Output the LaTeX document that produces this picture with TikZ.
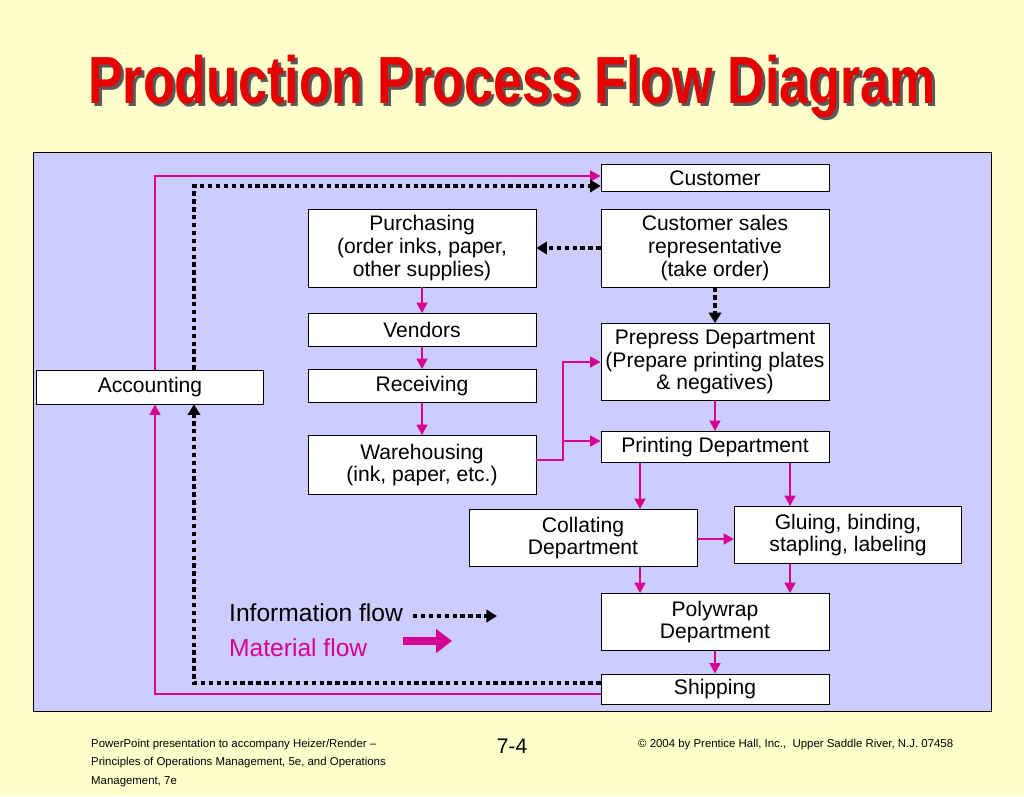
\documentclass[tikz,border=0pt]{standalone}
\usepackage{fontspec}
\setmainfont{Liberation Sans}
\usetikzlibrary{calc, arrows.meta}
\usepackage{xcolor}
\definecolor{bgyellow}{RGB}{255,255,204}
\definecolor{panelblue}{RGB}{204,204,255}
\definecolor{matpink}{RGB}{214,0,147}
\definecolor{titlered}{RGB}{230,0,0}

\begin{document}
\begin{tikzpicture}[x=0.02cm, y=-0.02cm]
        % ================= 样式定义 =================
        \tikzset{
            % 方框样式
            box/.style 2 args={draw=black, fill=white, align=center, inner sep=1pt,
                minimum width={#1*0.02cm}, minimum height={#2*0.02cm}, font=\fontsize{12}{13}\selectfont},
            % 物料流
            mat/.style={matpink, line width=1.6pt, -{Triangle[length=6pt, width=6pt]}},
            % 信息流
            info/.style={black, line width=2.2pt, dash pattern=on 2.5pt off 2pt, -{Triangle[length=6pt, width=7pt]}}
        }

        % ================= 背景 =================
        \fill[bgyellow] (0,0) rectangle (1024,796);
        \useasboundingbox (0,0) rectangle (1024,796);
        \draw[fill=panelblue] (33,152) rectangle (991,711);

        % 标题
        \node[gray!70!black, font=\bfseries\fontsize{38}{40}\selectfont, xscale=0.78] (shadow) at (515,89) {Production Process Flow Diagram};
        \node[titlered, font=\bfseries\fontsize{38}{40}\selectfont, xscale=0.78] (title) at (512,86) {Production Process Flow Diagram};

        % ================= 1. 方框 =================
        \node[box={228}{27}] (cust) at (715,178) {Customer};
        \node[box={228}{78}] (purch) at (422,248) {Purchasing\\(order inks, paper,\\other supplies)};
        \node[box={228}{78}] (csr) at (715,248) {Customer sales\\representative\\(take order)};
        \node[box={228}{33}] (vend) at (422,330) {Vendors};
        \node[box={228}{77}] (prep) at (715,362) {Prepress Department\\(Prepare printing plates\\\& negatives)};
        \node[box={227}{34}] (acct) at (150,387) {Accounting};
        \node[box={228}{33}] (recv) at (422,386) {Receiving};
        \node[box={228}{59}] (ware) at (422,465) {Warehousing\\(ink, paper, etc.)};
        \node[box={228}{31}] (print) at (715,447) {Printing Department};
        \node[box={228}{57}] (coll) at (583,538) {Collating\\Department};
        \node[box={227}{57}] (glue) at (848,535) {Gluing, binding,\\stapling, labeling};
        \node[box={228}{57}] (poly) at (715,622) {Polywrap\\Department};
        \node[box={228}{30}] (ship) at (715,689) {Shipping};

        % ================= 2. 物料流 =================
        \draw[mat] (purch) -- (vend);
        \draw[mat] (vend) -- (recv);
        \draw[mat] (recv) -- (ware);
        \coordinate (wbend) at (563,460);
        \draw[mat] (ware.east |- wbend) -- (wbend) |- (prep.west);
        \draw[mat] (563,441) -- (print.west |- 0,441);
        \draw[mat] (prep) -- (print);
        \draw[mat] (print.south -| 640,0) -- (coll.north -| 640,0);
        \draw[mat] (print.south -| 790,0) -- (glue.north -| 790,0);
        \draw[mat] (coll.east |- 0,539) -- (glue.west |- 0,539);
        \draw[mat] (coll.south -| 640,0) -- (poly.north -| 640,0);
        \draw[mat] (glue.south -| 790,0) -- (poly.north -| 790,0);
        \draw[mat] (poly) -- (ship);
        \draw[mat] (ship.west |- 0,694) -| (acct.south -| 155,0);
        \draw[mat] (acct.north -| 155,0) |- (cust.west |- 0,176);

        % ================= 3. 信息流 =================
        \draw[info] (csr) -- (purch);
        \draw[info] (csr) -- (prep);
        \draw[info] (acct.north -| 194,0) |- (cust.west |- 0,186);
        \draw[info] (ship.west |- 0,683) -| (acct.south -| 194,0);

        % ================= 4. 图例 =================
        \node[anchor=west, font=\fontsize{14}{15}\selectfont] (linfo) at (223,613) {Information flow};
        \node[anchor=west, matpink, font=\fontsize{14}{15}\selectfont] (lmat) at (223,648) {Material flow};
        \coordinate (ia) at (413,616);
        \coordinate (ib) at (497,616);
        \draw[info] (ia) -- (ib);
        \coordinate (ma) at (403,641);
        \coordinate (mb) at (452,641);
        \draw[matpink, line width=5pt, -{Triangle[length=9pt, width=13pt]}] (ma) -- (mb);

        % ================= 5. 页脚 =================
        \node[anchor=north west, align=left, font=\fontsize{6.5}{10.5}\selectfont] (foot) at (85,733) {PowerPoint presentation to accompany Heizer/Render --\\Principles of Operations Management, 5e, and Operations\\Management, 7e};
        \node[font=\fontsize{12}{13}\selectfont] (page) at (512,746) {7-4};
        \node[anchor=north west, font=\fontsize{6.5}{8}\selectfont] (copy) at (632,733) {© 2004 by Prentice Hall, Inc.,\ \ Upper Saddle River, N.J. 07458};

    \end{tikzpicture}
\end{document}
